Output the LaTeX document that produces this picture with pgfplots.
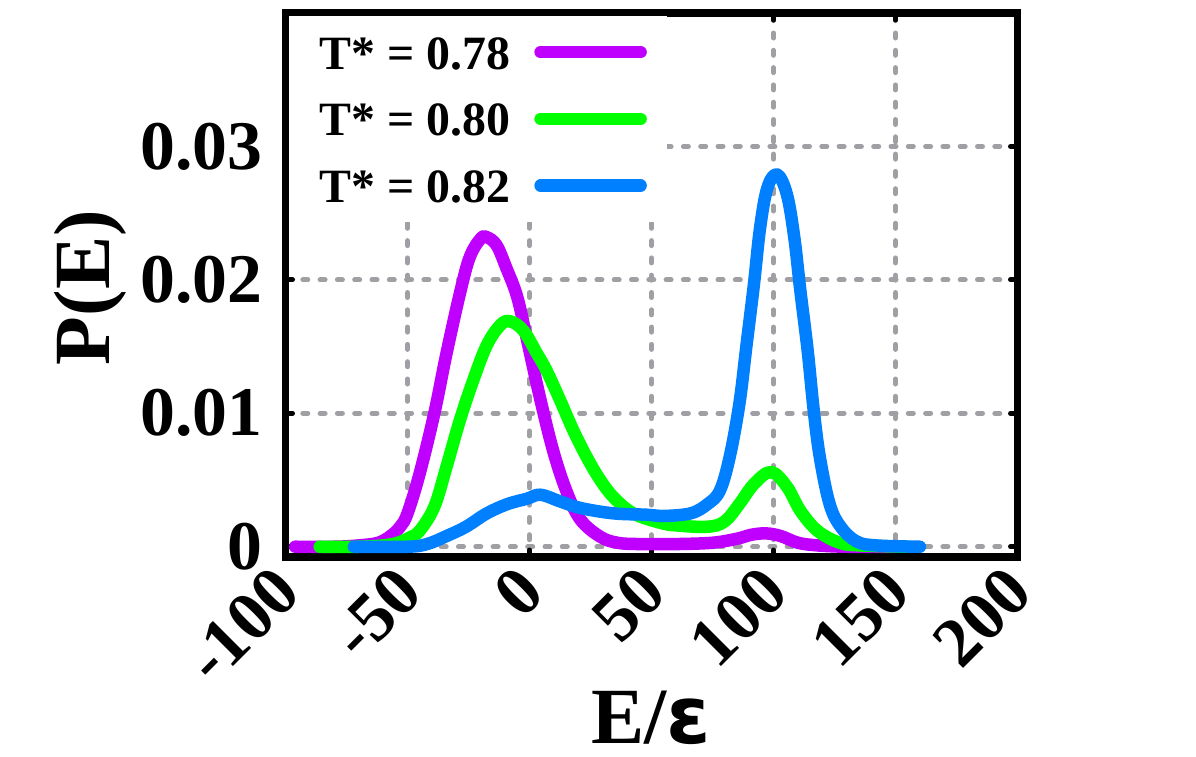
\documentclass[border=0pt]{standalone}
\usepackage{fontspec}
\setmainfont{Liberation Serif}
\newfontfamily\dejavu{DejaVu Sans}
\usepackage{pgfplots}
\pgfplotsset{compat=1.18}
\definecolor{cpur}{HTML}{BF00FF}
\definecolor{cgrn}{HTML}{00FF00}
\definecolor{cblu}{HTML}{0080FF}
\definecolor{cgrid}{HTML}{A0A0A4}

\begin{document}
\begin{tikzpicture}
\path[use as bounding box] (0bp,0bp) rectangle (1196bp,-757bp);
\begin{axis}[
  at={(285.5bp,-557bp)}, anchor=south west,
  scale only axis, width=732bp, height=544bp,
  xmin=-100, xmax=200, ymin=-0.00077, ymax=0.04,
  xtick={-100,-50,0,50,100,150,200},
  xticklabels={-100,-50,0,50,100,150,200},
  ytick={0,0.01,0.02,0.03},
  yticklabels={0,0.01,0.02,0.03},
  scaled y ticks=false,
  tick align=inside, tick pos=both,
  major tick length=7bp,
  every tick/.style={black, line width=5bp, line cap=round},
  axis line style={line width=7.5bp, black},
  grid=major,
  major grid style={cgrid, line width=5bp, dash pattern=on 5bp off 12.3bp, line cap=round},
  tick label style={font=\fontsize{70}{70}\selectfont\bfseries, inner sep=0pt},
  yticklabel style={anchor=east, xshift=-23bp},
  xticklabel style={rotate=45, anchor=east, xshift=-14.8bp, yshift=-17.7bp},
  xlabel={E/{\dejavu ε}}, ylabel={P(E)},
  label style={font=\fontsize{80}{80}\selectfont\bfseries},
  xlabel style={at={(axis description cs:0.5,-0.295)}, anchor=center},
  ylabel style={at={(axis description cs:-0.266,0.495)}, anchor=center},
  legend plot pos=right,
  legend cell align=left,
  legend style={at={(0,1)}, anchor=north west, xshift=3bp, yshift=-3bp,
    fill=white, draw=none,
    inner xsep=20bp, inner ysep=19bp,
    font=\fontsize{48}{48}\selectfont\bfseries,
    nodes={inner sep=0pt, text height=34bp, text depth=0bp},
    row sep=32.7bp, column sep=24bp},
  legend image code/.code={\draw[#1, line cap=round] (0bp,0bp) -- (100bp,0bp);},
  every axis plot/.append style={line width=12.5bp, line cap=round, line join=round, smooth, tension=0.6},
]
\addplot[cpur] coordinates {
(-96,0) (-80,0) (-70,0.0001) (-62,0.0003) (-57,0.0008) (-53,0.0015) (-50,0.0025) (-45,0.0055)
(-39,0.0100) (-34,0.0145) (-28.5,0.0190) (-24.5,0.0217) (-20,0.0231) (-17.5,0.0232)
(-13.5,0.0226) (-9.5,0.0209) (-5,0.0187) (-1,0.0155) (4.5,0.0110) (10,0.0070)
(15.5,0.0040) (21,0.0020) (29,0.00075) (36,0.0003) (45,0.0002) (60,0.0002)
(75,0.0003) (85,0.0006) (91,0.0009) (97,0.0010) (103,0.0008) (110,0.0003)
(118,0.0001) (130,0) (150,0)};
\addlegendentry{\hspace*{11bp}T* = 0.78}
\addplot[cgrn] coordinates {
(-86,0) (-70,0) (-60,0.0001) (-54,0.0003) (-49,0.0007) (-45,0.0012) (-39,0.0030)
(-34,0.0060) (-28.5,0.0095) (-23,0.0125) (-17.5,0.0151) (-12,0.0166) (-8,0.0169)
(-2.5,0.0162) (3,0.0145) (7,0.0132) (12.5,0.0110) (18,0.0087) (23.5,0.0067)
(29,0.0050) (34.5,0.0037) (42.5,0.0025) (53.5,0.0018) (60,0.0016) (73,0.0015)
(80,0.0019) (86,0.0032) (92,0.0047) (99,0.0056) (105.5,0.0045) (111,0.0027)
(118,0.0012) (127,0.0003) (135,0.0001) (155,0)};
\addlegendentry{\hspace*{11bp}T* = 0.80}
\addplot[cblu] coordinates {
(-72,0) (-50,0) (-42,0.0002) (-34,0.0008) (-26,0.0015) (-17.5,0.0025) (-9,0.0032)
(-1,0.0036) (4.5,0.0039) (12.5,0.0034) (21,0.0029) (34.5,0.0025) (48,0.0024)
(54,0.0023) (66,0.0025) (73,0.0032) (78,0.0042) (82,0.0067) (86,0.0107)
(89,0.0152) (92,0.0197) (94.5,0.0239) (97.5,0.0269) (101.5,0.0279) (105.5,0.0264)
(108.5,0.0232) (111,0.0192) (114,0.0147) (116.5,0.0102) (119,0.0067) (123,0.0032)
(127.5,0.0015) (134,0.0004) (142,0.0001) (160,0)};
\addlegendentry{\hspace*{11bp}T* = 0.82}
\end{axis}
\end{tikzpicture}
\end{document}
